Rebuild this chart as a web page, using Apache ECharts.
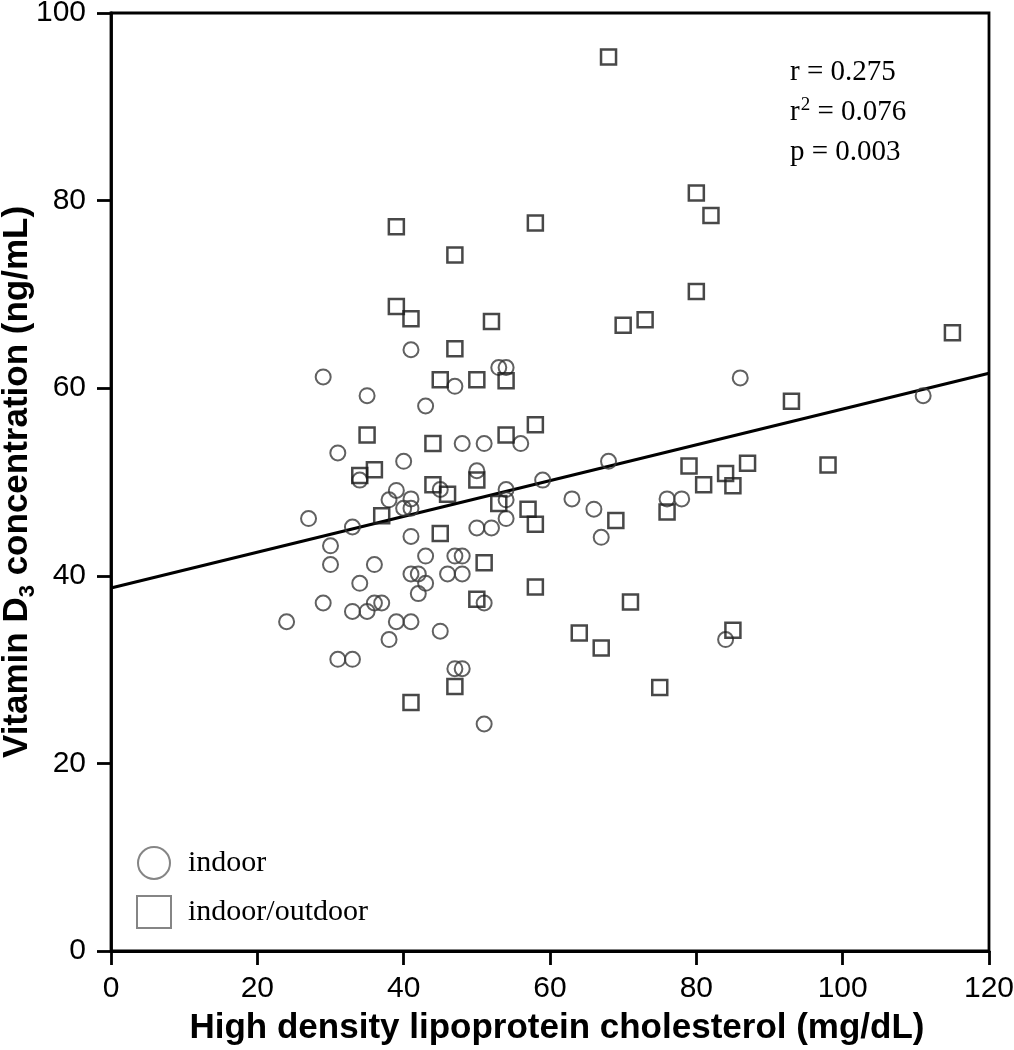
<!DOCTYPE html>
<html>
<head>
<meta charset="utf-8">
<script src="https://cdn.jsdelivr.net/npm/echarts@6/dist/echarts.min.js"></script>
<style>html,body{margin:0;padding:0;background:#fff;}#c{width:1014px;height:1050px;}</style>
</head>
<body>
<div id="c"></div>
<script>
// indoor (circles): HDL cholesterol (mg/dL), vitamin D3 (ng/mL)
const indoorX = [41,29,53,54,47,35,43,48,51,56,31,40,34,50,45,39,38,41,40,41,27,33,41,54,54,59,63,54,50,52,30,30,36,43,47,48,34,41,42,43,42,46,48,29,33,35,36,37,51,24,39,41,45,38,31,33,47,48,51,86,111,68,66,67,76,78,84];
const indoorY = [64.1,61.2,62.2,62.2,60.2,59.2,58.1,54.1,54.1,54.1,53.1,52.2,50.2,51.2,49.2,49.1,48.1,48.2,47.2,47.2,46.1,45.2,44.2,49.2,48.1,50.2,48.2,46.1,45.1,45.1,43.2,41.2,41.2,42.1,42.1,42.1,39.2,40.2,40.2,39.2,38.1,40.2,40.2,37.1,36.2,36.2,37.1,37.1,37.1,35.1,35.1,35.1,34.1,33.2,31.1,31.1,30.1,30.1,24.2,61.1,59.2,52.2,47.1,44.1,48.2,48.2,33.2];
// indoor/outdoor (squares)
const outdoorX = [68,80,82,39,58,47,80,39,41,52,70,73,115,47,45,50,54,35,44,54,58,93,34,36,50,44,46,53,37,45,57,58,51,58,50,47,41,79,81,84,85,87,98,69,76,71,64,67,85,75];
const outdoorY = [95.3,80.8,78.4,77.2,77.6,74.2,70.3,68.7,67.4,67.1,66.7,67.3,65.9,64.2,60.9,60.9,60.8,55.0,54.1,55.0,56.1,58.6,50.7,51.3,50.2,49.7,48.7,47.7,46.4,44.5,47.1,45.5,41.4,38.8,37.5,28.2,26.5,51.7,49.7,50.9,49.6,52.0,51.8,45.9,46.8,37.2,33.9,32.3,34.2,28.1];
// regression line end points
const fitX = [0, 120];
const fitY = [38.7, 61.6];
const xTicks = [0, 20, 40, 60, 80, 100, 120];
const yTicks = [0, 20, 40, 60, 80, 100];
const stats = ['r = 0.275', '0.076', 'p = 0.003'];

const zip = (a, b) => a.map((v, i) => [v, b[i]]);
const chart = echarts.init(document.getElementById('c'));
const sans = 'Liberation Sans, Arial, sans-serif';
const serif = 'Liberation Serif, Times New Roman, serif';
chart.setOption({
  animation: false,
  backgroundColor: '#fff',
  grid: { left: 111, right: 25, top: 13, bottom: 99, show: true, borderColor: '#000', borderWidth: 2.8, backgroundColor: 'transparent', containLabel: false, outerBoundsMode: 'none' },
  xAxis: {
    type: 'value', min: xTicks[0], max: xTicks[xTicks.length - 1], interval: 20,
    axisLine: { lineStyle: { color: '#000', width: 2.8 } },
    axisTick: { length: 14, lineStyle: { color: '#000', width: 2.8 } },
    splitLine: { show: false },
    axisLabel: { fontFamily: sans, fontSize: 30, color: '#000', margin: 23 },
    name: 'High density lipoprotein cholesterol (mg/dL)',
    nameLocation: 'middle', nameGap: 60, nameMoveOverlap: false,
    nameTextStyle: { fontFamily: sans, fontSize: 35, fontWeight: 'bold', color: '#000', padding: [0, 0, 0, 14] }
  },
  yAxis: {
    type: 'value', min: yTicks[0], max: yTicks[yTicks.length - 1], interval: 20,
    axisLine: { lineStyle: { color: '#000', width: 2.8 } },
    axisTick: { length: 14, lineStyle: { color: '#000', width: 2.8 } },
    splitLine: { show: false },
    axisLabel: { fontFamily: sans, fontSize: 30, color: '#000', margin: 25 },
    name: '{a|Vitamin D}{s|3}{a| concentration (ng/mL)}',
    nameLocation: 'middle', nameGap: 72, nameRotate: 90, nameMoveOverlap: false,
    nameTextStyle: {
      rich: {
        a: { fontFamily: sans, fontSize: 35, fontWeight: 'bold', color: '#000', lineHeight: 44 },
        s: { fontFamily: sans, fontSize: 22, fontWeight: 'bold', color: '#000', lineHeight: 44, verticalAlign: 'bottom' }
      }
    }
  },
  legend: {
    orient: 'vertical', left: 131, top: 841, itemWidth: 34, itemGap: 15, itemHeight: 32,
    textStyle: { fontFamily: serif, fontSize: 30, color: '#000', padding: [0, 0, 0, 12] },
    data: [
      { name: 'indoor', icon: 'circle', itemStyle: { color: 'rgba(0,0,0,0)', borderColor: '#666', borderWidth: 2 } },
      { name: 'indoor/outdoor', icon: 'rect', itemStyle: { color: 'rgba(0,0,0,0)', borderColor: '#666', borderWidth: 2 } }
    ]
  },
  graphic: [{
    type: 'text', left: 790, top: 58,
    style: {
      text: '{a|' + stats[0] + '}\n{a|r}{p|2}{a| = ' + stats[1] + '}\n{a|' + stats[2] + '}',
      rich: {
        a: { fontFamily: serif, fontSize: 29, fill: '#000', lineHeight: 40 },
        p: { fontFamily: serif, fontSize: 19, fill: '#000', lineHeight: 40, verticalAlign: 'top', padding: [3, 0, 0, 1] }
      }
    }
  }],
  series: [
    {
      name: 'indoor', type: 'scatter', symbol: 'circle', symbolSize: 15,
      itemStyle: { color: 'rgba(0,0,0,0)', borderColor: '#3a3a3a', borderWidth: 2 },
      data: zip(indoorX, indoorY), z: 3
    },
    {
      name: 'indoor/outdoor', type: 'scatter', symbol: 'rect', symbolSize: 15,
      itemStyle: { color: 'rgba(0,0,0,0)', borderColor: '#1a1a1a', borderWidth: 2.5 },
      data: zip(outdoorX, outdoorY), z: 3
    },
    {
      name: 'fit', type: 'line', data: zip(fitX, fitY), showSymbol: false, symbol: 'none',
      lineStyle: { color: '#000', width: 3 }, z: 2, silent: true
    }
  ]
});
</script>
</body>
</html>
